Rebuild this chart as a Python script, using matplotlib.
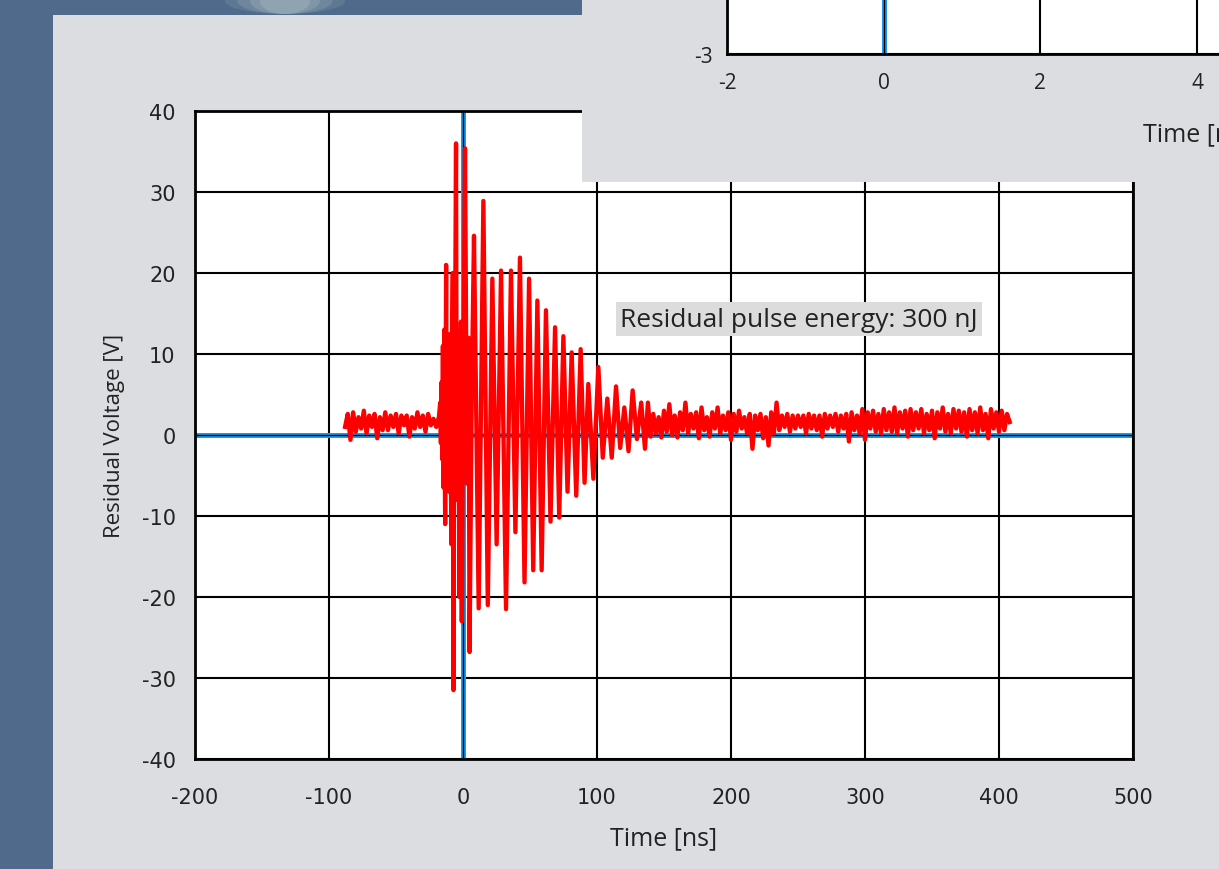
"""Residual voltage after pulse: screenshot-style recreation."""
import numpy as np
import matplotlib
matplotlib.use("Agg")
import matplotlib.pyplot as plt
from matplotlib.patches import Rectangle, Ellipse

plt.rcParams["axes.unicode_minus"] = False
plt.rcParams["font.family"] = ["Open Sans", "DejaVu Sans"]

# --- data ---
# baseline noise before the pulse (sampled every 2 ns from -88 ns)
PRE_T0, PRE_DT = -88.0, 2.0
pre_v = [1.0, 2.6, -0.6, 2.8, 0.4, 2.2, 0.8, 3.0, 0.2, 2.4,
         1.0, 2.6, -0.4, 2.2, 0.6, 2.8, 0.6, 2.4, 1.0, 2.6,
         0.2, 2.4, 1.2, 2.4, -0.2, 2.2, 0.8, 2.8, 1.0, 2.4,
         0.4, 2.6, 1.2, 2.0, 1.0, 2.2]

# ringing burst: turning points (time ns, voltage V)
burst_t = [-17.0, -16.5, -16.0, -15.5, -15.0, -14.5, -14.0, -13.6, -13.3, -12.9,
           -12.6, -12.2, -11.8, -11.4, -11.0, -10.6, -10.3, -9.9, -9.5, -9.0,
           -8.6, -8.1, -7.6, -7.1, -6.5, -5.8, -5.2, -4.7, -4.3, -3.9,
           -3.5, -3.0, -2.6, -2.0, -1.5, -0.9, -0.3, 0.3, 1.5, 3.0,
           4.2, 4.9, 6.5, 8.2,
           11.7, 15.2, 18.5, 21.9, 25.1, 28.4, 32.1, 35.8, 39.1, 42.5,
           45.9, 49.3, 52.4, 55.5, 58.7, 61.9, 65.3, 68.7, 71.8, 74.9,
           78.0, 81.1, 84.5, 87.8, 90.7, 93.5, 97.3, 101.0, 104.3, 107.7,
           111.0, 114.2, 117.3, 120.4, 123.5, 126.6, 129.8, 133.0, 135.8]
burst_v = [4.0, -1.0, 6.5, -3.0, 11.0, -6.5, 13.0, -4.0, -11.0, 8.0,
           21.0, -2.0, -4.0, 9.0, 10.0, -5.0, -7.0, 6.0, 12.5, -6.0,
           -13.5, 11.0, 20.0, -31.5, 4.0, 16.0, 36.0, -4.0, -8.0, 9.0,
           10.0, -6.0, -20.0, 6.0, 14.0, -23.0, -4.0, 8.0, 35.4, -6.0,
           12.0, -26.8, 5.0, 24.6,
           -21.4, 28.9, -21.0, 19.3, -13.5, 20.3, -21.5, 20.3, -12.0, 21.9,
           -18.2, 19.3, -16.7, 16.6, -16.7, 15.4, -10.7, 13.3, -10.2, 12.2,
           -7.0, 10.2, -7.5, 10.6, -5.9, 6.3, -5.4, 8.4, -2.8, 4.5,
           -2.8, 6.0, -1.6, 3.4, -2.0, 5.5, -0.5, 4.0, -1.7]

# baseline noise after the pulse (sampled every 2 ns from 138 ns)
POST_T0, POST_DT = 138.0, 2.0
post_v = [4.0, -0.2, 2.6, 0.2, 2.2, -0.3, 3.0, 0.4, 3.8, 0.0,
          2.4, -0.3, 2.8, 0.6, 4.0, 0.2, 2.6, 0.8, 2.8, -0.4,
          3.4, 0.6, 2.2, -0.2, 2.8, 0.8, 3.4, 0.2, 2.4, 0.6,
          2.8, -0.6, 2.6, 0.4, 3.0, 0.8, 2.2, 0.2, 2.6, -1.7,
          2.4, 0.6, 2.6, -0.4, 2.2, -1.3, 2.8, 0.2, 4.0, 0.6,
          2.4, 1.0, 2.6, 0.4, 2.4, 0.8, 2.4, 1.0, 2.4, 0.2,
          2.6, 0.8, 2.4, 0.6, 2.4, -0.2, 2.6, 0.8, 2.4, 1.0,
          2.6, 0.4, 2.4, 0.8, 2.6, -0.8, 2.8, 0.6, 2.4, 0.2,
          3.2, -0.6, 2.8, 0.8, 3.0, 0.4, 2.6, 0.2, 3.2, 0.6,
          2.8, 0.4, 3.4, 0.2, 2.8, 0.8, 3.0, -0.2, 3.2, 0.6,
          2.8, 0.8, 3.2, 0.2, 2.6, 0.6, 3.0, -0.4, 2.8, 0.8,
          3.4, 0.4, 2.6, 0.2, 3.2, 0.8, 3.0, 0.4, 2.8, -0.2,
          3.2, 0.6, 2.8, 0.2, 3.4, 0.6, 2.6, -0.4, 3.2, 0.8,
          2.8, 0.4, 3.0, 0.6, 2.6, 1.6]

x_ticks = [-200, -100, 0, 100, 200, 300, 400, 500]
y_ticks = [-40, -30, -20, -10, 0, 10, 20, 30, 40]
inset_x_ticks = [-2, 0, 2, 4, 6, 8, 10]
inset_y_ticks = [-3, -2, -1, 0, 1, 2, 3]
energy_label = "Residual pulse energy: 300 nJ"

W, H = 1219, 870
BG_BLUE = "#4f6a8b"
PANEL = "#dcdde0"
ZERO_BLUE = "#1c9af0"
TXT = "#222222"


def fig_rect(x0, y0, x1, y1):
    """pixel box (top-left origin) -> figure fraction [l, b, w, h]"""
    return [x0 / W, 1 - y1 / H, (x1 - x0) / W, (y1 - y0) / H]


def main() -> None:
    pre_t = PRE_T0 + PRE_DT * np.arange(len(pre_v))
    post_t = POST_T0 + POST_DT * np.arange(len(post_v))
    t = np.concatenate([pre_t, burst_t, post_t])
    v = np.concatenate([pre_v, burst_v, post_v])

    fig = plt.figure(figsize=(W / 100, H / 100), dpi=100)
    fig.patch.set_facecolor(BG_BLUE)

    # light panel + blurred blob in the top strip
    fig.add_artist(Rectangle(fig_rect(53, 16, W, H)[:2], 1, (H - 16) / H,
                             transform=fig.transFigure, facecolor=PANEL,
                             edgecolor="none", zorder=-10))
    for w, a in [(120, 0.15), (95, 0.2), (70, 0.25), (50, 0.3)]:
        fig.add_artist(Ellipse((285 / W, 1 - 2 / H), w / W, 26 / H,
                               transform=fig.transFigure, facecolor="#b5c4c6",
                               edgecolor="none", alpha=a, zorder=-9))

    # --- main chart ---
    ax = fig.add_axes(fig_rect(195, 112, 1133, 760))
    ax.set_facecolor("white")
    ax.set_xlim(-200, 500)
    ax.set_ylim(-40, 40)
    ax.set_xticks(x_ticks)
    ax.set_yticks(y_ticks)
    ax.grid(True, color="black", lw=1.5)
    ax.axhline(0, color=ZERO_BLUE, lw=3.6, zorder=1)
    ax.axvline(0, color=ZERO_BLUE, lw=3.6, zorder=1)
    ax.axhline(0, color="black", lw=1.0, zorder=1.1)
    ax.axvline(0, color="black", lw=1.0, zorder=1.1)
    ax.set_axisbelow(True)
    ax.plot(t, v, color="#ff0000", lw=3.1, zorder=3)
    for s in ax.spines.values():
        s.set_linewidth(2.0)
    ax.tick_params(length=0, labelsize=15, colors=TXT)
    ax.tick_params(axis="x", pad=20)
    ax.tick_params(axis="y", pad=14)
    for lab in ax.get_xticklabels() + ax.get_yticklabels():
        lab.set_family(["DejaVu Sans"])
    ax.set_xlabel("Time [ns]", fontsize=18, color=TXT, labelpad=13)
    ax.set_ylabel("Residual Voltage [V]", fontsize=16, color=TXT,
                  labelpad=12)
    ax.text(117, 14.3, energy_label, fontsize=19, color=TXT,
            va="center", ha="left", zorder=4,
            bbox=dict(facecolor="#dcdcdc", edgecolor="none", pad=3))

    # --- overlapping second slide panel ---
    cover = fig.add_axes(fig_rect(582, 0, W, 183), zorder=5)
    cover.set_facecolor(PANEL)
    cover.set_xticks([])
    cover.set_yticks([])
    for s in cover.spines.values():
        s.set_visible(False)

    ins = fig.add_axes(fig_rect(727, -345, 1667, 55), zorder=6)
    ins.set_facecolor("white")
    ins.set_xlim(-2, 10)
    ins.set_ylim(-3, 3)
    ins.set_xticks(inset_x_ticks)
    ins.set_yticks(inset_y_ticks)
    ins.grid(True, color="black", lw=1.5)
    ins.axvline(0, color=ZERO_BLUE, lw=3.6, zorder=1)
    ins.axvline(0, color="black", lw=1.0, zorder=1.1)
    ins.set_axisbelow(True)
    for s in ins.spines.values():
        s.set_linewidth(2.0)
    ins.tick_params(length=0, labelsize=15, colors=TXT)
    ins.tick_params(axis="x", pad=13)
    ins.tick_params(axis="y", pad=10)
    ins.set_xlabel("Time [ns]", fontsize=18, color=TXT, labelpad=20)

    fig.savefig("out.png", dpi=100, facecolor=fig.get_facecolor())


if __name__ == "__main__":
    main()
